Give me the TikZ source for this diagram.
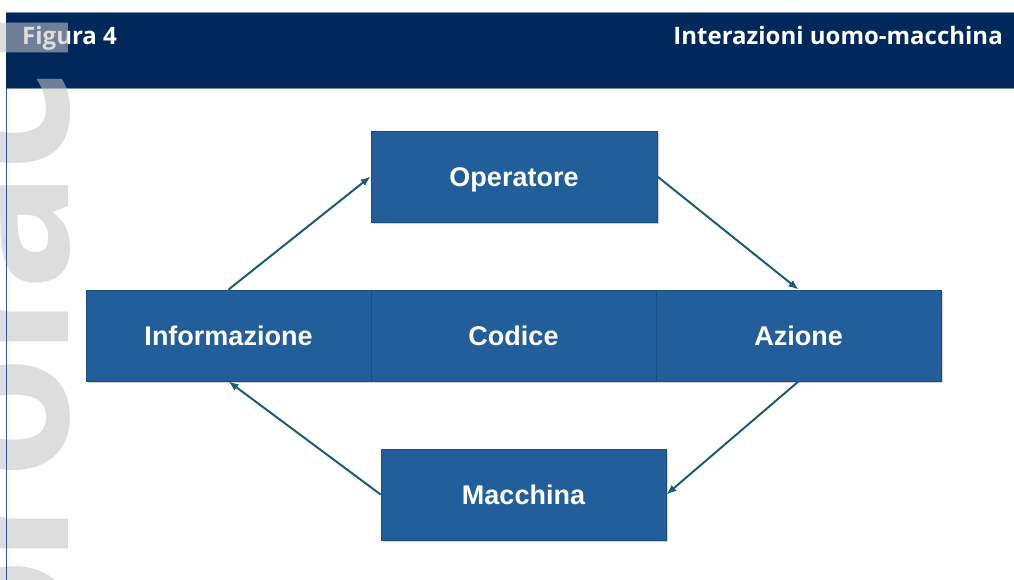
\documentclass[tikz,border=0pt]{standalone}
\usepackage{fontspec}
\setmainfont{Liberation Sans}
\newfontfamily\headfont{Open Sans}
\usetikzlibrary{arrows.meta,shadows}

\definecolor{headblue}{RGB}{0,40,90}
\definecolor{boxblue}{RGB}{33,94,154}
\definecolor{boxline}{RGB}{24,78,132}
\definecolor{arrowteal}{RGB}{28,92,122}
\definecolor{rulegray}{RGB}{120,140,170}
\definecolor{sideline}{RGB}{50,85,140}
\definecolor{markgray}{RGB}{195,195,197}

\begin{document}
\begin{tikzpicture}[x=1pt,y=-1pt,
    blok/.style={fill=boxblue,draw=boxline,line width=0.8pt,text=white,
        font=\fontsize{27}{30}\selectfont\bfseries,
        text height=19.5pt,text depth=0pt,
        minimum width=285pt,minimum height=91pt,inner sep=0pt,
        drop shadow={shadow xshift=1.5pt,shadow yshift=-2pt,opacity=0.35}},
    flow/.style={arrowteal,line width=2pt,-{Latex[length=10pt,width=8pt]}},
    headtext/.style={text=white,font=\headfont\fontsize{24}{28}\selectfont\bfseries,inner sep=0pt},
    wmark/.style={rotate=90,anchor=base,inner sep=0pt,text=markgray,opacity=0.565,
        font=\headfont\fontsize{200}{200}\selectfont\bfseries}
]
\useasboundingbox (0,0) rectangle (1014,580);
% header band
\fill[headblue] (6,12) rectangle (1014,88);
\draw[rulegray,line width=0.6pt] (6,12) -- (1014,12) (6,88) -- (1014,88);
\node[headtext,anchor=base west] (figno) at (22,45) {Figura 4};
\node[headtext,anchor=base east] (title) at (1003,45) {Interazioni uomo-macchina};
% watermark on the left edge
\begin{scope}
  \clip (0,0) rectangle (70,580);
  \foreach \glyph/\ypos in {o/620,r/519,o/418,r/312,a/231,c/121,i/38}
    \node[wmark] (wm-\ypos) at (68,\ypos) {\glyph};
\end{scope}
\draw[sideline,line width=1pt] (6.5,88) -- (6.5,580);
% boxes
\node[blok,minimum width=286pt] (oper) at (514,176.5) {Operatore};
\node[blok] (info) at (228.5,335.5) {Informazione};
\node[blok] (code) at (513.5,335.5) {Codice};
\node[blok] (act) at (798.5,335.5) {Azione};
\node[blok] (mach) at (523.5,494.5) {Macchina};
% cycle
\draw[flow] (info.north) -- (oper.west);
\draw[flow] (oper.east) -- (act.north);
\draw[flow] (act.south) -- (mach.east);
\draw[flow] (mach.west) -- (info.south);
\end{tikzpicture}
\end{document}
